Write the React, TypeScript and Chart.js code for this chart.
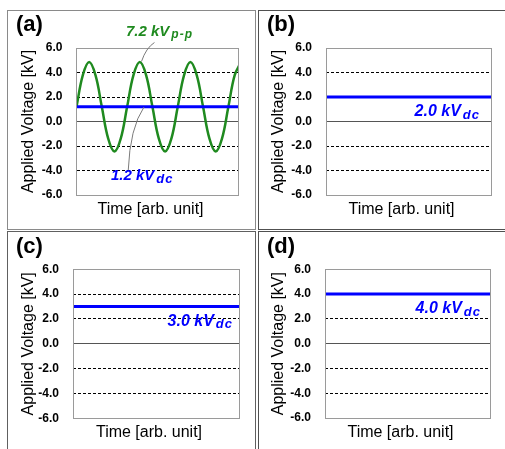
import React, { useEffect, useRef } from "react";
import { Chart, registerables } from "chart.js";

Chart.register(...registerables);

const FONT = "'Liberation Sans', Arial, Helvetica, sans-serif";

// ---------------- data ----------------
const panelLabels = ["(a)", "(b)", "(c)", "(d)"];
const dcVoltages = [1.2, 2.0, 3.0, 4.0]; // kV
const dcLabelTexts = ["1.2 kV", "2.0 kV", "3.0 kV", "4.0 kV"];
const dcSubscript = "dc";
const acLabelText = "7.2 kV";
const acSubscript = "p-p";
const yAxisTitle = "Applied Voltage [kV]";
const xAxisTitle = "Time [arb. unit]";
const yRange = [-6, 6];
const yStep = 2;
// time in arb. units (1 unit = 1/8 of the AC period)
const timeRange = [0, 25.6];
const acTimes = [0, 1, 2, 3, 4, 5, 6, 7, 8, 9, 10, 11, 12, 13, 14, 15, 16, 17, 18, 19, 20, 21, 22, 23, 24, 25, 26];
const acVoltages = [
  1.2, 3.78, 4.85, 3.78, 1.2, -1.38, -2.45, -1.38,
  1.2, 3.78, 4.85, 3.78, 1.2, -1.38, -2.45, -1.38,
  1.2, 3.78, 4.85, 3.78, 1.2, -1.38, -2.45, -1.38,
  1.2, 3.78, 4.85,
];

// ---------------- layout ----------------
type Geom = { left: number; top: number; w: number; h: number; L: number; R: number; T: number; B: number; titlePad: number; dcRight: number };
const GEOMS: Geom[] = [
  { left: 8, top: 11, w: 247, h: 218, L: 68.5, R: 230.5, T: 37, B: 184, titlePad: 11, dcRight: 9 },
  { left: 259, top: 11, w: 246, h: 218, L: 67, R: 232, T: 37, B: 184, titlePad: 9.5, dcRight: 11 },
  { left: 8, top: 232, w: 247, h: 217, L: 65, R: 231, T: 37.3, B: 186.3, titlePad: 11, dcRight: 6 },
  { left: 259, top: 232, w: 246, h: 217, L: 66, R: 231, T: 37.3, B: 186, titlePad: 9.5, dcRight: 9 },
];
const BORDERS = [
  { left: 7, top: 10, width: 249, height: 220, color: "#8a8a8a" },
  { left: 258, top: 10, width: 300, height: 220, color: "#505050" },
  { left: 7, top: 231, width: 249, height: 300, color: "#606060" },
  { left: 258, top: 231, width: 300, height: 300, color: "#505050" },
];

function alignPx(p: number) {
  return Math.round(p - 0.5) + 0.5;
}

function drawWithSub(
  ctx: CanvasRenderingContext2D,
  main: string,
  sub: string,
  x: number,
  y: number,
  align: "left" | "right",
  color: string,
  mainSize: number,
  subSize: number
) {
  ctx.save();
  ctx.fillStyle = color;
  ctx.textBaseline = "alphabetic";
  ctx.textAlign = "left";
  ctx.font = `italic bold ${mainSize}px ${FONT}`;
  const mw = ctx.measureText(main).width;
  ctx.font = `italic bold ${subSize}px ${FONT}`;
  (ctx as any).letterSpacing = "1px";
  const sw = ctx.measureText(sub).width;
  (ctx as any).letterSpacing = "0px";
  const gap = 2;
  let mx = x;
  if (align === "right") mx = x - sw - gap - mw;
  ctx.font = `italic bold ${mainSize}px ${FONT}`;
  ctx.fillText(main, mx, y);
  ctx.font = `italic bold ${subSize}px ${FONT}`;
  (ctx as any).letterSpacing = "1px";
  ctx.fillText(sub, mx + mw + gap, y + 2.5);
  (ctx as any).letterSpacing = "0px";
  ctx.restore();
}

function Panel({ idx }: { idx: number }) {
  const ref = useRef<HTMLCanvasElement>(null);
  const g = GEOMS[idx];

  useEffect(() => {
    const canvas = ref.current;
    if (!canvas) return;
    const datasets: any[] = [
      {
        label: "DC",
        data: timeRange.map((t) => ({ x: t, y: dcVoltages[idx] })),
        borderColor: "#0000ff",
        borderWidth: 3,
        pointRadius: 0,
        tension: 0,
        order: 0,
      },
    ];
    if (idx === 0) {
      datasets.push({
        label: "AC",
        data: acTimes.map((t, i) => ({ x: t, y: acVoltages[i] })),
        borderColor: "#1f8a1f",
        borderWidth: 2.5,
        pointRadius: 0,
        tension: 0.4,
        order: 1,
      });
    }

    const textPlugin = {
      id: "panelText",
      afterDraw(chart: any) {
        const { ctx, chartArea: a, scales } = chart;
        const sx = (t: number) => scales.x.getPixelForValue(t);
        const sy = (v: number) => scales.y.getPixelForValue(v);
        ctx.save();
        // plot frame
        ctx.strokeStyle = "#9a9a9a";
        ctx.lineWidth = 1;
        const l = alignPx(a.left), tp = alignPx(a.top), r = alignPx(a.right), b = alignPx(a.bottom);
        ctx.strokeRect(l, tp, r - l, b - tp);
        // x-axis title
        ctx.fillStyle = "#000";
        ctx.font = `16px ${FONT}`;
        ctx.textAlign = "center";
        ctx.textBaseline = "alphabetic";
        ctx.fillText(xAxisTitle, (a.left + a.right) / 2 - 7, a.bottom + 19);
        // panel label
        ctx.font = `bold 22px ${FONT}`;
        ctx.textAlign = "left";
        ctx.fillText(panelLabels[idx], 8, idx < 2 ? 20 : 21);
        ctx.restore();

        if (idx === 0) {
          // leader lines
          ctx.save();
          ctx.strokeStyle = "#7a7a7a";
          ctx.lineWidth = 1;
          ctx.beginPath();
          ctx.moveTo(sx(12.32), sy(6.45));
          ctx.quadraticCurveTo(sx(10.98), sy(6.0), sx(10.27), sy(4.9));
          ctx.stroke();
          ctx.beginPath();
          ctx.moveTo(sx(10.66), sy(1.18));
          ctx.quadraticCurveTo(sx(8.45), sy(-0.53), sx(8.18), sy(-3.96));
          ctx.stroke();
          ctx.restore();
          drawWithSub(ctx, acLabelText, acSubscript, sx(7.82), sy(6.98), "left", "#1f8a1f", 15, 12);
          drawWithSub(ctx, dcLabelTexts[0], dcSubscript, sx(5.45), sy(-4.78), "left", "#0000ff", 15, 13);
        } else {
          drawWithSub(
            ctx,
            dcLabelTexts[idx],
            dcSubscript,
            a.right - g.dcRight,
            sy(dcVoltages[idx]) + 19,
            "right",
            "#0000ff",
            16,
            13
          );
        }
      },
    };

    const chart = new Chart(canvas, {
      type: "line",
      data: { datasets },
      options: {
        animation: false,
        responsive: false,
        maintainAspectRatio: false,
        events: [],
        layout: { padding: { left: 0, top: g.T, right: g.w - g.R, bottom: 0 } },
        plugins: { legend: { display: false }, tooltip: { enabled: false }, title: { display: false } },
        scales: {
          x: {
            type: "linear",
            min: timeRange[0],
            max: timeRange[1],
            ticks: { display: false },
            grid: { display: false, drawTicks: false },
            border: { display: false },
            afterFit: (s: any) => {
              s.height = g.h - g.B;
            },
          },
          y: {
            type: "linear",
            min: yRange[0],
            max: yRange[1],
            ticks: {
              stepSize: yStep,
              padding: 14,
              color: "#000",
              font: { family: FONT, size: 12, weight: "bold" },
              callback: (v: any) => Number(v).toFixed(1),
            },
            grid: {
              drawTicks: false,
              lineWidth: 1,
              color: (c: any) => {
                const v = c.tick ? c.tick.value : 1;
                if (Math.abs(v) >= 6) return "rgba(0,0,0,0)";
                if (v === 0) return "#555555";
                return "#000000";
              },
            },
            border: {
              display: false,
              dash: (c: any) => (c.tick && c.tick.value === 0 ? [] : [3, 2]),
            },
            title: {
              display: true,
              text: yAxisTitle,
              color: "#000",
              font: { family: FONT, size: 16, weight: "normal" },
              padding: { top: g.titlePad, bottom: 0 },
            },
            afterFit: (s: any) => {
              s.width = g.L;
            },
          },
        },
      } as any,
      plugins: [textPlugin],
    });
    return () => chart.destroy();
  }, [idx]);

  return (
    <canvas
      ref={ref}
      width={g.w}
      height={g.h}
      style={{ position: "absolute", left: g.left, top: g.top, width: g.w, height: g.h, display: "block" }}
    />
  );
}

export default function App() {
  return (
    <div
      style={{
        position: "fixed",
        left: 0,
        top: 0,
        width: 505,
        height: 449,
        overflow: "hidden",
        background: "#ffffff",
      }}
    >
      {BORDERS.map((b, i) => (
        <div
          key={"b" + i}
          style={{
            position: "absolute",
            left: b.left,
            top: b.top,
            width: b.width,
            height: b.height,
            boxSizing: "border-box",
            border: `1px solid ${b.color}`,
          }}
        />
      ))}
      {GEOMS.map((_, i) => (
        <Panel key={i} idx={i} />
      ))}
    </div>
  );
}
